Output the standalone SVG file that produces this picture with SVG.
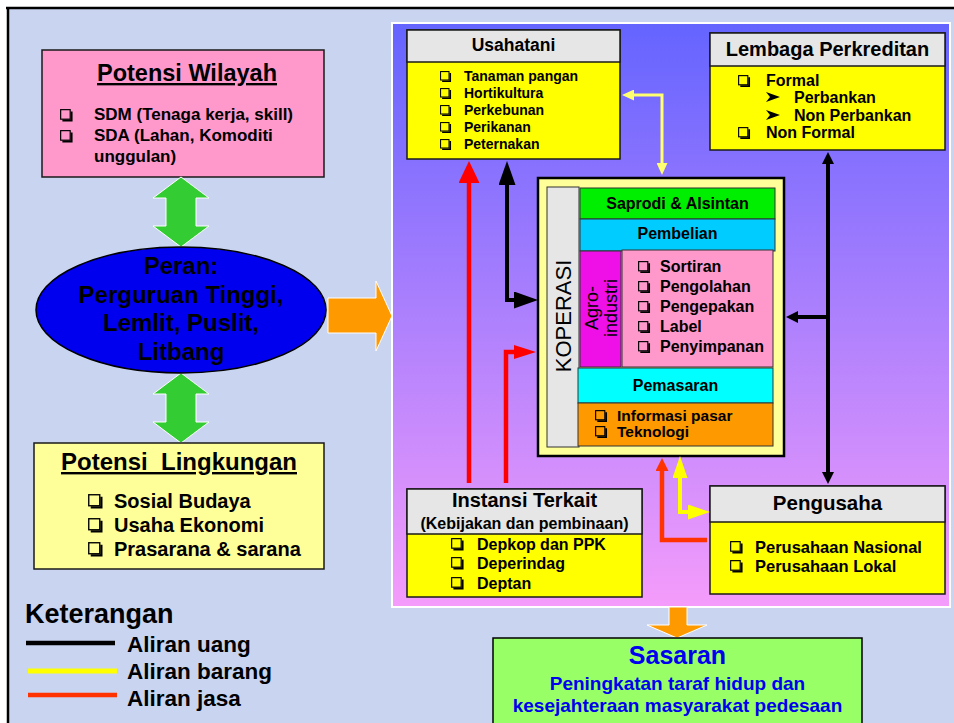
<svg xmlns="http://www.w3.org/2000/svg" width="954" height="723" viewBox="0 0 954 723">
<defs>
<style>
text{font-family:"Liberation Sans",Arial,Helvetica,sans-serif;font-weight:bold;fill:#000}
.c{text-anchor:middle}
.n{font-weight:normal}
.u{text-decoration:underline}
.bx{stroke:#1a1a1a;stroke-width:1.5}
.hd{fill:#e6e6e6}
.yl{fill:#ffff00}
.thin{stroke:#333;stroke-width:1}
.lk{stroke:#000;stroke-width:4;fill:none}
.lr{stroke:#ff0000;stroke-width:4.5;fill:none}
.lo{stroke:#ff3300;stroke-width:4.5;fill:none}
.ly{stroke:#ffff00;stroke-width:4;fill:none}
.ly2{stroke:#ffff70;stroke-width:3;fill:none}
.big{stroke:#fff;stroke-width:1}
</style>
<linearGradient id="panel" x1="0" y1="0" x2="0" y2="1">
<stop offset="0" stop-color="#6464ff"/>
<stop offset="1" stop-color="#f59cfb"/>
</linearGradient>
<symbol id="cb" viewBox="0 0 12 12"><rect x="0.6" y="0.6" width="8.8" height="8.8" fill="none" stroke="#000" stroke-width="1.1"/><path d="M2.2 10.7H10.7V2.2" fill="none" stroke="#000" stroke-width="1.8"/></symbol>
<symbol id="ar" viewBox="0 0 14 10"><path d="M0 0L14 5L0 10L4 5Z" fill="#000"/></symbol>
<marker id="hkL" markerUnits="userSpaceOnUse" markerWidth="24" markerHeight="17" refX="0" refY="8.5" orient="auto-start-reverse"><path d="M0 0L24 8.5L0 17Z" fill="#000"/></marker>
<marker id="hk" markerUnits="userSpaceOnUse" markerWidth="12" markerHeight="12" refX="0" refY="6" orient="auto-start-reverse"><path d="M0 0L12 6L0 12Z" fill="#000"/></marker>
<marker id="hr" markerUnits="userSpaceOnUse" markerWidth="22" markerHeight="21" refX="0" refY="10.5" orient="auto"><path d="M0 0L22 10.5L0 21Z" fill="#ff0000"/></marker>
<marker id="hr2" markerUnits="userSpaceOnUse" markerWidth="22" markerHeight="14" refX="0" refY="7" orient="auto"><path d="M0 0L22 7L0 14Z" fill="#ff0000"/></marker>
<marker id="ho" markerUnits="userSpaceOnUse" markerWidth="13" markerHeight="13" refX="0" refY="6.5" orient="auto"><path d="M0 0L13 6.5L0 13Z" fill="#ff3300"/></marker>
<marker id="hy" markerUnits="userSpaceOnUse" markerWidth="22" markerHeight="15" refX="0" refY="7.5" orient="auto-start-reverse"><path d="M0 0L22 7.5L0 15Z" fill="#ffff00"/></marker>
<marker id="hy2" markerUnits="userSpaceOnUse" markerWidth="12" markerHeight="11" refX="0" refY="5.5" orient="auto-start-reverse"><path d="M0 0L12 5.5L0 11Z" fill="#ffff70"/></marker>
</defs>

<rect x="0" y="0" width="954" height="723" fill="#ffffff"/>
<rect x="8" y="8" width="946" height="715" fill="#c9d5f0"/>
<path d="M6 8H954M8 8V723" stroke="#000" stroke-width="2.5" fill="none"/>

<rect id="panel-bg" x="392" y="23" width="558" height="584" fill="url(#panel)" stroke="#fff" stroke-width="2"/>

<g id="potensi-wilayah">
<rect x="42" y="50" width="282" height="127" fill="#ff99cc" class="bx"/>
<text x="187" y="81" class="c u" font-size="23.5">Potensi Wilayah</text>
<use href="#cb" x="60" y="109" width="13" height="13"/>
<use href="#cb" x="60" y="130" width="13" height="13"/>
<text x="94" y="120" font-size="17">SDM (Tenaga kerja, skill)</text>
<text x="94" y="141" font-size="17">SDA (Lahan, Komoditi</text>
<text x="94" y="162" font-size="17">unggulan)</text>
</g>

<g id="arrows-big">
<polygon class="big" fill="#33cc33" points="181,177 209,198 196,198 196,226 209,226 181,247 153,226 166,226 166,198 153,198"/>
<polygon class="big" fill="#33cc33" points="181,373 209,394 196,394 196,422 209,422 181,443 153,422 166,422 166,394 153,394"/>
<polygon class="big" fill="#ff9900" points="328,298 376,298 376,281 392,316 376,351 376,333 328,333"/>
<polygon class="big" fill="#ff9900" points="669,607 687,607 687,625 707,625 677,638 647,625 669,625"/>
</g>

<g id="peran">
<ellipse cx="181" cy="310" rx="145" ry="63" fill="#0000ee" stroke="#000" stroke-width="1.5"/>
<text x="181" y="274" class="c" font-size="24">Peran:</text>
<text x="181" y="303" class="c" font-size="24">Perguruan Tinggi,</text>
<text x="181" y="331" class="c" font-size="24">Lemlit, Puslit,</text>
<text x="181" y="360" class="c" font-size="24">Litbang</text>
</g>

<g id="potensi-lingkungan">
<rect x="34" y="443" width="290" height="126" fill="#ffff99" class="bx"/>
<text x="179" y="470" class="c u" font-size="24">Potensi &#160;Lingkungan</text>
<use href="#cb" x="88" y="494" width="15" height="15"/>
<use href="#cb" x="88" y="518" width="15" height="15"/>
<use href="#cb" x="88" y="542" width="15" height="15"/>
<text x="114" y="508" font-size="20">Sosial Budaya</text>
<text x="114" y="532" font-size="20">Usaha Ekonomi</text>
<text x="114" y="556" font-size="20">Prasarana &amp; sarana</text>
</g>

<g id="keterangan">
<text x="25" y="623" font-size="27">Keterangan</text>
<path d="M26 643H115" stroke="#000" stroke-width="4.5"/>
<path d="M28 671H117" stroke="#ffff00" stroke-width="5"/>
<path d="M28 695H117" stroke="#ff3300" stroke-width="4.5"/>
<text x="127" y="652" font-size="22.5">Aliran uang</text>
<text x="127" y="679" font-size="22.5">Aliran barang</text>
<text x="127" y="706" font-size="22.5">Aliran jasa</text>
</g>

<g id="usahatani">
<rect x="407" y="30" width="213" height="129" class="yl bx"/>
<rect x="407" y="30" width="213" height="32" class="hd bx"/>
<text x="513.5" y="51" class="c" font-size="17.5">Usahatani</text>
<use href="#cb" x="440" y="71" width="11.5" height="11.5"/>
<use href="#cb" x="440" y="88" width="11.5" height="11.5"/>
<use href="#cb" x="440" y="105" width="11.5" height="11.5"/>
<use href="#cb" x="440" y="122" width="11.5" height="11.5"/>
<use href="#cb" x="440" y="139" width="11.5" height="11.5"/>
<text x="464" y="81" font-size="14">Tanaman pangan</text>
<text x="464" y="98" font-size="14">Hortikultura</text>
<text x="464" y="115" font-size="14">Perkebunan</text>
<text x="464" y="132" font-size="14">Perikanan</text>
<text x="464" y="149" font-size="14">Peternakan</text>
</g>

<g id="lembaga-perkreditan">
<rect x="710" y="33" width="235" height="117" class="yl bx"/>
<rect x="710" y="33" width="235" height="33" class="hd bx"/>
<text x="827.5" y="56" class="c" font-size="20">Lembaga Perkreditan</text>
<use href="#cb" x="738" y="75" width="12.5" height="12.5"/>
<use href="#ar" x="766" y="92" width="14" height="10"/>
<use href="#ar" x="766" y="110" width="14" height="10"/>
<use href="#cb" x="738" y="127" width="12.5" height="12.5"/>
<text x="766" y="86" font-size="16">Formal</text>
<text x="794" y="103" font-size="16">Perbankan</text>
<text x="794" y="121" font-size="16">Non Perbankan</text>
<text x="766" y="138" font-size="16">Non Formal</text>
</g>

<g id="koperasi">
<rect x="538" y="178" width="246" height="278" fill="#ffff99" stroke="#000" stroke-width="2.5"/>
<rect x="547" y="187" width="32" height="260" fill="#e6e6e6" class="thin"/>
<text transform="translate(571,316) rotate(-90)" class="c n" font-size="22">KOPERASI</text>
<rect x="580" y="188" width="195" height="31" fill="#00ee00" class="thin"/>
<text x="677.5" y="209" class="c" font-size="16">Saprodi &amp; Alsintan</text>
<rect x="580" y="219" width="195" height="32" fill="#00ccff" class="thin"/>
<text x="677.5" y="239" class="c" font-size="16">Pembelian</text>
<rect x="580" y="251" width="41" height="116" fill="#ee10e6" class="thin"/>
<text transform="translate(598,308) rotate(-90)" class="c n" font-size="18">Agro-</text>
<text transform="translate(616.5,308) rotate(-90)" class="c n" font-size="18">industri</text>
<rect x="622" y="250" width="151" height="117" fill="#ff99cc" class="thin"/>
<use href="#cb" x="638" y="261" width="12.5" height="12.5"/>
<use href="#cb" x="638" y="281" width="12.5" height="12.5"/>
<use href="#cb" x="638" y="301" width="12.5" height="12.5"/>
<use href="#cb" x="638" y="321" width="12.5" height="12.5"/>
<use href="#cb" x="638" y="341" width="12.5" height="12.5"/>
<text x="660" y="272" font-size="16">Sortiran</text>
<text x="660" y="292" font-size="16">Pengolahan</text>
<text x="660" y="312" font-size="16">Pengepakan</text>
<text x="660" y="332" font-size="16">Label</text>
<text x="660" y="352" font-size="16">Penyimpanan</text>
<rect x="578" y="368" width="195" height="35" fill="#00ffff" class="thin"/>
<text x="675.5" y="391" class="c" font-size="16">Pemasaran</text>
<rect x="578" y="403" width="195" height="43" fill="#ff9900" class="thin"/>
<use href="#cb" x="595" y="410" width="12.5" height="12.5"/>
<use href="#cb" x="595" y="426" width="12.5" height="12.5"/>
<text x="617" y="421" font-size="15.5">Informasi pasar</text>
<text x="617" y="437" font-size="15.5">Teknologi</text>
</g>

<g id="instansi-terkait">
<rect x="407" y="489" width="235" height="108" class="yl bx"/>
<rect x="407" y="489" width="235" height="45" class="hd bx"/>
<text x="524.5" y="507" class="c" font-size="20">Instansi Terkait</text>
<text x="524.5" y="529" class="c" font-size="16">(Kebijakan dan pembinaan)</text>
<use href="#cb" x="451" y="538" width="13" height="13"/>
<use href="#cb" x="451" y="557" width="13" height="13"/>
<use href="#cb" x="451" y="577" width="13" height="13"/>
<text x="477" y="550" font-size="16">Depkop dan PPK</text>
<text x="477" y="569" font-size="16">Deperindag</text>
<text x="477" y="589" font-size="16">Deptan</text>
</g>

<g id="pengusaha">
<rect x="710" y="486" width="235" height="108" class="yl bx"/>
<rect x="710" y="486" width="235" height="36" class="hd bx"/>
<text x="827.5" y="510" class="c" font-size="20.5">Pengusaha</text>
<use href="#cb" x="730" y="541" width="13" height="13"/>
<use href="#cb" x="730" y="560" width="13" height="13"/>
<text x="755" y="553" font-size="16.5">Perusahaan Nasional</text>
<text x="755" y="572" font-size="16.5">Perusahaan Lokal</text>
</g>

<g id="sasaran">
<rect x="493" y="638" width="369" height="100" fill="#99ff66" stroke="#000" stroke-width="1.5"/>
<text x="677.5" y="664" class="c" font-size="25" style="fill:#0000ee">Sasaran</text>
<text x="677.5" y="690" class="c" font-size="19" style="fill:#0000ee">Peningkatan taraf hidup dan</text>
<text x="677.5" y="712" class="c" font-size="19" style="fill:#0000ee">kesejahteraan masyarakat pedesaan</text>
</g>

<g id="connectors">
<path class="lk" d="M507 185V300H514" marker-start="url(#hkL)" marker-end="url(#hkL)"/>
<path class="lr" d="M469 483V183" marker-end="url(#hr)"/>
<path class="lr" d="M506 483V352H514" marker-end="url(#hr2)"/>
<path class="ly2" d="M634 95H662V163" marker-start="url(#hy2)" marker-end="url(#hy2)"/>
<path class="lk" d="M828 164V472" marker-start="url(#hk)" marker-end="url(#hk)"/>
<path class="lk" d="M828 317H798" marker-end="url(#hk)"/>
<path class="lo" d="M707 540H662V471" marker-end="url(#ho)"/>
<path class="ly" d="M680 478V512H688" marker-start="url(#hy)" marker-end="url(#hy)"/>
</g>
</svg>
